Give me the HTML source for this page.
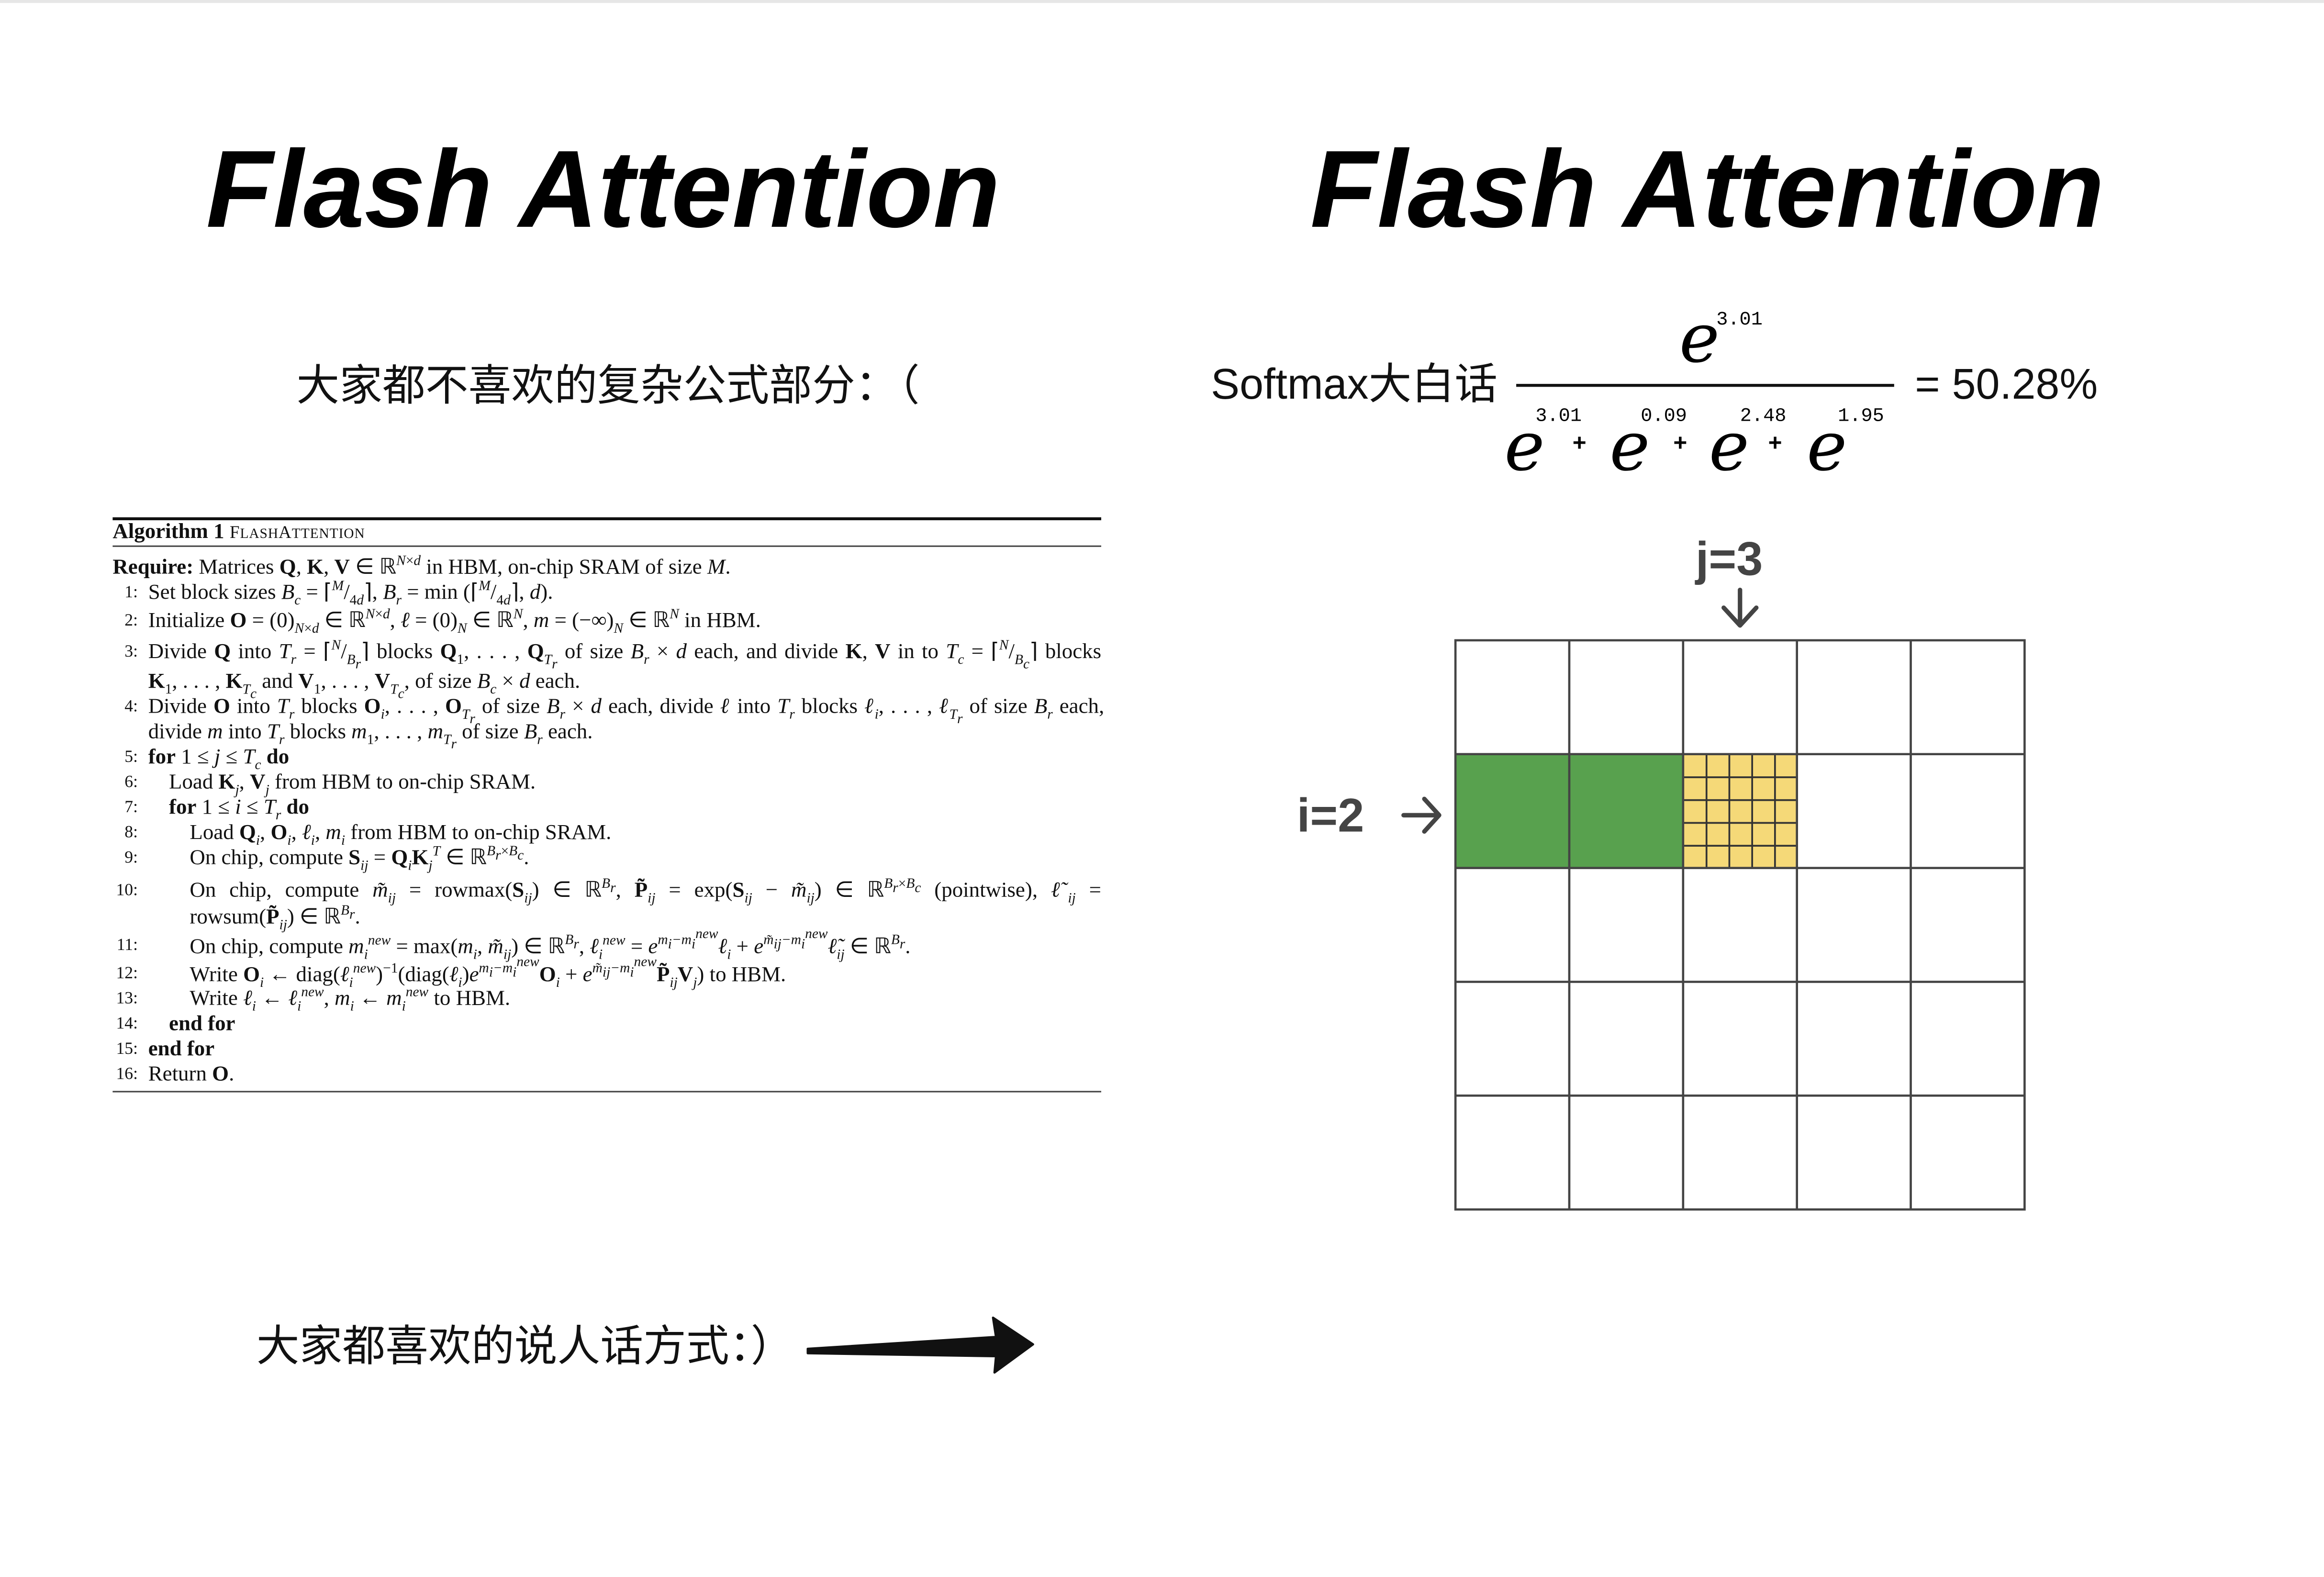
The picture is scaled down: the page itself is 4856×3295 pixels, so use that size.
<!DOCTYPE html>
<html><head><meta charset="utf-8"><style>
html,body{margin:0;padding:0;background:#fff;}
body{width:4856px;height:3294px;overflow:hidden;position:relative;}
#w{position:absolute;left:0;top:0;width:1568px;height:1064px;transform:scale(3.0969);transform-origin:0 0;}
.a{position:absolute;white-space:nowrap;}
.t{font-family:"Liberation Sans",sans-serif;font-weight:bold;font-style:italic;font-size:74px;color:#000;line-height:1;}
.cn{font-family:"Liberation Sans","Noto Sans CJK SC",sans-serif;font-size:29px;color:#111;line-height:1;}
.alg{font-family:"Liberation Serif",serif;font-size:14.5px;color:#111;line-height:1;}
.alg i{font-style:italic}
.alg sub,.alg sup{font-size:9.5px;line-height:0}
.n{position:absolute;width:18px;text-align:right;font-family:"Liberation Serif",serif;font-size:11.5px;color:#111;line-height:1;left:75px;}
.e{font-family:"DejaVu Serif",serif;font-style:italic;font-size:46px;line-height:1;color:#000;}
.sp{font-family:"Liberation Mono",monospace;font-size:13px;line-height:1;color:#000;}
.pl{font-family:"Liberation Sans",sans-serif;font-size:16px;font-weight:bold;line-height:1;}
.lbl{font-family:"Liberation Sans",sans-serif;font-weight:bold;font-size:32px;color:#444;line-height:1;}
.j{text-align:justify;text-align-last:justify;white-space:normal;}
</style></head><body><div id="w">
<div class="a" style="left:0;top:0;width:1568px;height:2px;background:#e6e6e6"></div>

<div class="a t" style="left:139px;top:91px;">Flash Attention</div>
<div class="a t" style="left:884px;top:91px;">Flash Attention</div>

<div class="a cn" style="left:200px;top:247px;">大家都不喜欢的复杂公式部分：（</div>

<!-- Algorithm -->
<div class="a" style="left:76px;top:349px;width:667px;height:2px;background:#111"></div>
<div class="a" style="left:76px;top:368px;width:667px;height:1px;background:#444"></div>
<div class="a" style="left:76px;top:736px;width:667px;height:1px;background:#444"></div>
<div class="a alg" style="left:76px;top:352px;"><b>Algorithm 1</b> <span style="font-size:12px;letter-spacing:0.3px">F<span style="font-size:9.5px">LASH</span>A<span style="font-size:9.5px">TTENTION</span></span></div>
<div class="a alg" style="left:76px;top:376px;"><b>Require:</b> Matrices <b>Q</b>, <b>K</b>, <b>V</b> ∈ ℝ<sup><i>N</i>×<i>d</i></sup> in HBM, on-chip SRAM of size <i>M</i>.</div>

<div class="n" style="top:395px">1:</div>
<div class="a alg" style="left:100px;top:393px;">Set block sizes <i>B<sub>c</sub></i> = ⌈<sup><i>M</i></sup>/<sub>4<i>d</i></sub>⌉, <i>B<sub>r</sub></i> = min (⌈<sup><i>M</i></sup>/<sub>4<i>d</i></sub>⌉, <i>d</i>).</div>
<div class="n" style="top:414px">2:</div>
<div class="a alg" style="left:100px;top:412px;">Initialize <b>O</b> = (0)<sub><i>N</i>×<i>d</i></sub> ∈ ℝ<sup><i>N</i>×<i>d</i></sup>, <i>ℓ</i> = (0)<sub><i>N</i></sub> ∈ ℝ<sup><i>N</i></sup>, <i>m</i> = (−∞)<sub><i>N</i></sub> ∈ ℝ<sup><i>N</i></sup> in HBM.</div>
<div class="n" style="top:435px">3:</div>
<div class="a alg j" style="left:100px;top:433px;width:643px;">Divide <b>Q</b> into <i>T<sub>r</sub></i> = ⌈<sup><i>N</i></sup>/<sub><i>B<sub>r</sub></i></sub>⌉ blocks <b>Q</b><sub>1</sub>, . . . , <b>Q</b><sub><i>T<sub>r</sub></i></sub> of size <i>B<sub>r</sub></i> × <i>d</i> each, and divide <b>K</b>, <b>V</b> in to <i>T<sub>c</sub></i> = ⌈<sup><i>N</i></sup>/<sub><i>B<sub>c</sub></i></sub>⌉ blocks</div>
<div class="a alg" style="left:100px;top:453px;"><b>K</b><sub>1</sub>, . . . , <b>K</b><sub><i>T<sub>c</sub></i></sub> and <b>V</b><sub>1</sub>, . . . , <b>V</b><sub><i>T<sub>c</sub></i></sub>, of size <i>B<sub>c</sub></i> × <i>d</i> each.</div>
<div class="n" style="top:472px">4:</div>
<div class="a alg j" style="left:100px;top:470px;width:645px;">Divide <b>O</b> into <i>T<sub>r</sub></i> blocks <b>O</b><sub><i>i</i></sub>, . . . , <b>O</b><sub><i>T<sub>r</sub></i></sub> of size <i>B<sub>r</sub></i> × <i>d</i> each, divide <i>ℓ</i> into <i>T<sub>r</sub></i> blocks <i>ℓ<sub>i</sub></i>, . . . , <i>ℓ<sub>T<sub>r</sub></sub></i> of size <i>B<sub>r</sub></i> each,</div>
<div class="a alg" style="left:100px;top:487px;">divide <i>m</i> into <i>T<sub>r</sub></i> blocks <i>m</i><sub>1</sub>, . . . , <i>m<sub>T<sub>r</sub></sub></i> of size <i>B<sub>r</sub></i> each.</div>
<div class="n" style="top:506px">5:</div>
<div class="a alg" style="left:100px;top:504px;"><b>for</b> 1 ≤ <i>j</i> ≤ <i>T<sub>c</sub></i> <b>do</b></div>
<div class="n" style="top:523px">6:</div>
<div class="a alg" style="left:114px;top:521px;">Load <b>K</b><sub><i>j</i></sub>, <b>V</b><sub><i>j</i></sub> from HBM to on-chip SRAM.</div>
<div class="n" style="top:540px">7:</div>
<div class="a alg" style="left:114px;top:538px;"><b>for</b> 1 ≤ <i>i</i> ≤ <i>T<sub>r</sub></i> <b>do</b></div>
<div class="n" style="top:557px">8:</div>
<div class="a alg" style="left:128px;top:555px;">Load <b>Q</b><sub><i>i</i></sub>, <b>O</b><sub><i>i</i></sub>, <i>ℓ<sub>i</sub></i>, <i>m<sub>i</sub></i> from HBM to on-chip SRAM.</div>
<div class="n" style="top:574px">9:</div>
<div class="a alg" style="left:128px;top:572px;">On chip, compute <b>S</b><sub><i>ij</i></sub> = <b>Q</b><sub><i>i</i></sub><b>K</b><sub><i>j</i></sub><sup><i>T</i></sup> ∈ ℝ<sup><i>B<sub>r</sub></i>×<i>B<sub>c</sub></i></sup>.</div>
<div class="n" style="top:596px">10:</div>
<div class="a alg j" style="left:128px;top:594px;width:615px;">On chip, compute <i>m̃<sub>ij</sub></i> = rowmax(<b>S</b><sub><i>ij</i></sub>) ∈ ℝ<sup><i>B<sub>r</sub></i></sup>, <b>P̃</b><sub><i>ij</i></sub> = exp(<b>S</b><sub><i>ij</i></sub> − <i>m̃<sub>ij</sub></i>) ∈ ℝ<sup><i>B<sub>r</sub></i>×<i>B<sub>c</sub></i></sup> (pointwise), <i>ℓ̃<sub>ij</sub></i> =</div>
<div class="a alg" style="left:128px;top:612px;">rowsum(<b>P̃</b><sub><i>ij</i></sub>) ∈ ℝ<sup><i>B<sub>r</sub></i></sup>.</div>
<div class="n" style="top:633px">11:</div>
<div class="a alg" style="left:128px;top:631px;">On chip, compute <i>m<sub>i</sub><sup>new</sup></i> = max(<i>m<sub>i</sub></i>, <i>m̃<sub>ij</sub></i>) ∈ ℝ<sup><i>B<sub>r</sub></i></sup>, <i>ℓ<sub>i</sub><sup>new</sup></i> = <i>e<sup>m<sub>i</sub>−m<sub>i</sub><sup>new</sup></sup>ℓ<sub>i</sub></i> + <i>e<sup>m̃<sub>ij</sub>−m<sub>i</sub><sup>new</sup></sup>ℓ̃<sub>ij</sub></i> ∈ ℝ<sup><i>B<sub>r</sub></i></sup>.</div>
<div class="n" style="top:652px">12:</div>
<div class="a alg" style="left:128px;top:650px;">Write <b>O</b><sub><i>i</i></sub> ← diag(<i>ℓ<sub>i</sub><sup>new</sup></i>)<sup>−1</sup>(diag(<i>ℓ<sub>i</sub></i>)<i>e<sup>m<sub>i</sub>−m<sub>i</sub><sup>new</sup></sup></i><b>O</b><sub><i>i</i></sub> + <i>e<sup>m̃<sub>ij</sub>−m<sub>i</sub><sup>new</sup></sup></i><b>P̃</b><sub><i>ij</i></sub><b>V</b><sub><i>j</i></sub>) to HBM.</div>
<div class="n" style="top:669px">13:</div>
<div class="a alg" style="left:128px;top:667px;">Write <i>ℓ<sub>i</sub></i> ← <i>ℓ<sub>i</sub><sup>new</sup></i>, <i>m<sub>i</sub></i> ← <i>m<sub>i</sub><sup>new</sup></i> to HBM.</div>
<div class="n" style="top:686px">14:</div>
<div class="a alg" style="left:114px;top:684px;"><b>end for</b></div>
<div class="n" style="top:703px">15:</div>
<div class="a alg" style="left:100px;top:701px;"><b>end for</b></div>
<div class="n" style="top:720px">16:</div>
<div class="a alg" style="left:100px;top:718px;">Return <b>O</b>.</div>

<!-- Softmax formula -->
<div class="a cn" style="left:817px;top:246px;">Softmax大白话</div>
<div class="a" style="left:1023px;top:259px;width:255px;height:2px;background:#111"></div>
<div class="a cn" style="left:1292px;top:246px;">= 50.28%</div>
<div class="a e" style="left:1133px;top:205px;">e</div>
<div class="a sp" style="left:1158px;top:209px;">3.01</div>
<div class="a e" style="left:1015px;top:278px;">e</div>
<div class="a sp" style="left:1036px;top:274px;">3.01</div>
<div class="a pl" style="left:1061px;top:292px;">+</div>
<div class="a e" style="left:1086px;top:278px;">e</div>
<div class="a sp" style="left:1107px;top:274px;">0.09</div>
<div class="a pl" style="left:1129px;top:292px;">+</div>
<div class="a e" style="left:1153px;top:278px;">e</div>
<div class="a sp" style="left:1174px;top:274px;">2.48</div>
<div class="a pl" style="left:1193px;top:292px;">+</div>
<div class="a e" style="left:1219px;top:278px;">e</div>
<div class="a sp" style="left:1240px;top:274px;">1.95</div>

<!-- grid -->
<div class="a lbl" style="left:1144px;top:361px;">j=3</div>
<div class="a lbl" style="left:875px;top:534px;">i=2</div>
<svg class="a" style="left:0;top:0" width="1568" height="1064" viewBox="0 0 1568 1064">
 <g stroke="#444" stroke-width="3" stroke-linecap="round" stroke-linejoin="round" fill="none">
  <path d="M1174 398 V421 M1163 410 L1174 422 L1185 410"/>
  <path d="M947 550 H970 M961 539 L971 550 L961 561"/>
 </g>
 <rect x="982" y="509" width="154" height="77" fill="#58a14e"/>
 <rect x="1136" y="509" width="77" height="77" fill="#f5d978"/>
 <g stroke="#333" stroke-width="1.2">
  <path d="M1151.4 509V586M1166.8 509V586M1182.2 509V586M1197.6 509V586M1136 524.4H1213M1136 539.8H1213M1136 555.2H1213M1136 570.6H1213"/>
 </g>
 <g stroke="#444" stroke-width="1.5" fill="none">
  <rect x="982" y="432" width="384" height="384"/>
  <path d="M1058.8 432V816M1135.6 432V816M1212.4 432V816M1289.2 432V816M982 508.8H1366M982 585.6H1366M982 662.4H1366M982 739.2H1366"/>
 </g>
 <path d="M545 910 L672 902 L670 889 L697 907 L671 926 L672 915 L545 913 Z" fill="#111" stroke="#111" stroke-width="1.5" stroke-linejoin="round"/>
</svg>

<div class="a cn" style="left:173px;top:895px;">大家都喜欢的说人话方式：）</div>
</div></body></html>
